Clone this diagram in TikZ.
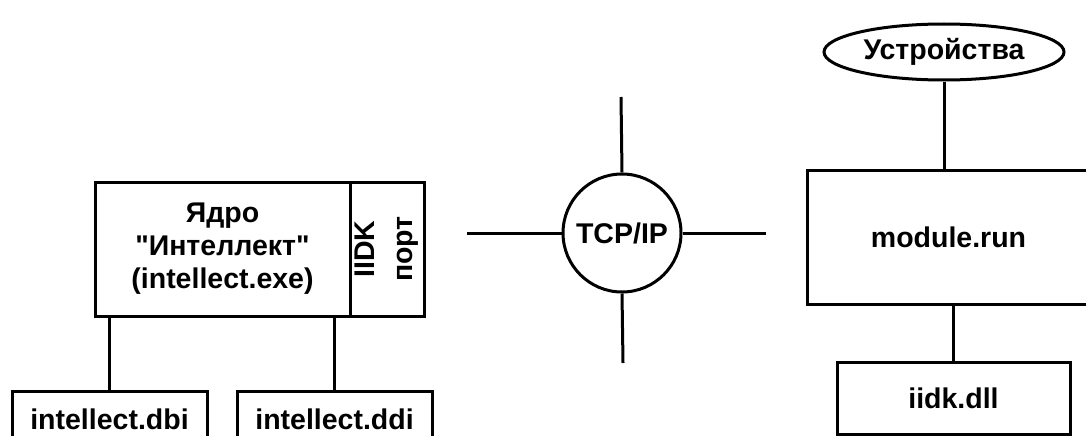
\documentclass[tikz,border=0pt]{standalone}
\usepackage{fontspec}
\setmainfont{Liberation Sans}[Ligatures=TeXOff]
\usetikzlibrary{shapes.geometric}

\begin{document}
\begin{tikzpicture}[x=1pt,y=-1pt,line width=3pt]
\tikzstyle{every node}=[font=\fontsize{28.5}{33}\selectfont\bfseries,inner sep=0pt,align=center];
\tikzstyle{box}=[draw,rectangle];
\useasboundingbox (0,0) rectangle (1086,436);
\clip (0,0) rectangle (1086,436);

% left side: the core and its files
\node[box,minimum width=255,minimum height=134] (core) at (222.5,249) {Ядро\\"Интеллект"\\(intellect.exe)};
\node[box,minimum width=134,minimum height=74,rotate=90,
  font=\fontsize{28.5}{38}\selectfont\bfseries] (port) at (387,249) {IIDK\\порт};
\node[box,minimum width=195,minimum height=56] (dbi) at (109.5,419) {intellect.dbi};
\node[box,minimum width=195,minimum height=56] (ddi) at (334.5,419) {intellect.ddi};
\draw (dbi.north) -- (dbi.north |- core.south);
\draw (ddi.north) -- (ddi.north |- core.south);

% middle: the network
\node[draw,circle,minimum size=118] (tcp) at (622,233) {TCP/IP};
\coordinate (netw) at (467,233);
\coordinate (nete) at (766,233);
\coordinate (netn) at (621,97);
\coordinate (nets) at (623,363);
\draw (tcp.west) -- (netw);
\draw (tcp.east) -- (nete);
\draw (tcp.north) -- (netn);
\draw (tcp.south) -- (nets);

% right side: the module
\node[draw,ellipse,minimum width=240,minimum height=56] (dev) at (944,52) {Устройства};
\node[box,minimum width=283,minimum height=134] (module) at (948.5,237) {module.run};
\node[box,minimum width=233,minimum height=72] (iidk) at (953.5,398) {iidk.dll};
\draw (dev.south) -- (dev.south |- module.north);
\draw (iidk.north) -- (iidk.north |- module.south);
\end{tikzpicture}
\end{document}
